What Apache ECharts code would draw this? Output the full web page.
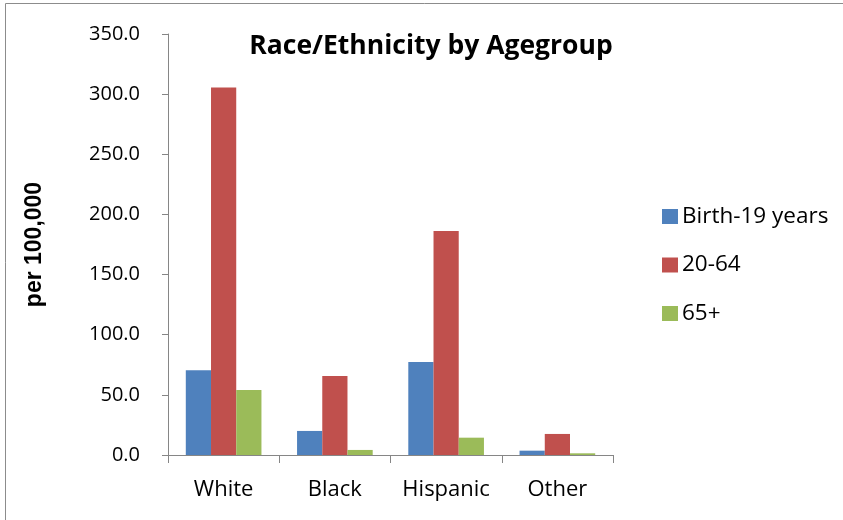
<!DOCTYPE html>
<html><head><meta charset="utf-8">
<script src="https://cdn.jsdelivr.net/npm/echarts@6/dist/echarts.min.js"></script>
<style>html,body{margin:0;padding:0;background:#fff}#c{width:843px;height:520px}</style>
</head><body><div id="c"></div>
<script>
var categories = ['White', 'Black', 'Hispanic', 'Other'];
var seriesNames = ['Birth-19 years', '20-64', '65+'];
var birth19 = [70.4, 20.0, 77.4, 3.6];
var age20to64 = [305.5, 65.7, 186.3, 17.5];
var age65plus = [54.0, 4.2, 14.4, 1.4];
var colors = ['#4F81BD', '#C0504D', '#9BBB59'];
var allData = [birth19, age20to64, age65plus];

var chart = echarts.init(document.getElementById('c'));
var font = '"Open Sans", Lato, sans-serif';
chart.setOption({
  animation: false,
  graphic: [{type: 'rect', shape: {x: 5.5, y: 3.5, width: 850, height: 530}, style: {fill: 'none', stroke: '#8c8c8c', lineWidth: 1}}],
  title: {text: 'Race/Ethnicity by Agegroup', left: 426, top: 28, textAlign: 'center',
    textStyle: {fontFamily: font, fontWeight: 'bold', fontSize: 26.5, color: '#000'}},
  legend: {orient: 'vertical', left: 657, top: 200, itemWidth: 16, itemHeight: 15, itemGap: 25.5,
    icon: 'rect', textStyle: {fontFamily: font, fontSize: 22.5, lineHeight: 22, color: '#000', padding: [0, 0, 0, -1]},
    data: seriesNames},
  grid: {left: 168, right: 230, top: 34, bottom: 65},
  xAxis: {type: 'category', data: categories,
    axisLine: {lineStyle: {color: '#868686'}},
    axisTick: {show: true, length: 8, alignWithLabel: false, lineStyle: {color: '#868686'}},
    axisLabel: {fontFamily: font, fontSize: 22, color: '#000', margin: 24, interval: 0}},
  yAxis: {type: 'value', min: 0, max: 350, interval: 50,
    name: 'per 100,000', nameLocation: 'middle', nameGap: 122, nameRotate: 90,
    nameTextStyle: {fontFamily: '"Liberation Sans", Arial, sans-serif', fontWeight: 'bold', fontSize: 23, color: '#000'},
    axisLine: {show: true, lineStyle: {color: '#868686'}},
    axisTick: {show: true, length: 6, lineStyle: {color: '#868686'}},
    splitLine: {show: false},
    axisLabel: {fontFamily: font, fontSize: 20, color: '#000', margin: 28,
      formatter: function (v) { return v.toFixed(1); }}},
  series: seriesNames.map(function (n, i) {
    return {name: n, type: 'bar', data: allData[i], barGap: '0%', barCategoryGap: '32%',
      itemStyle: {color: colors[i]}};
  })
});
</script></body></html>
